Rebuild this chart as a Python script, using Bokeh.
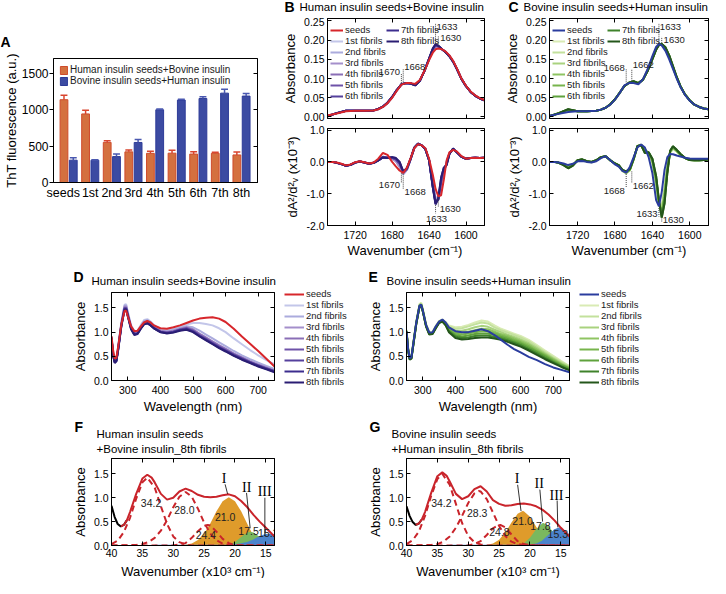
import math
from bokeh.plotting import figure
from bokeh.models import (Range1d, FixedTicker, LinearAxis, Label, Legend, LegendItem,
                          PrintfTickFormatter)
from bokeh.layouts import row, column
from bokeh.embed import file_html
from bokeh.resources import INLINE
from bokeh.core.properties import value

FONT = "Liberation Sans"
SERIF = "Liberation Serif"

# ---------------- data ----------------
categories = ["seeds", "1st", "2nd", "3rd", "4th", "5th", "6th", "7th", "8th"]
tht_human = [1135, 940, 550, 420, 400, 402, 390, 400, 378]
tht_human_err = [62, 52, 22, 25, 30, 40, 30, 16, 40]
tht_bovine = [306, 306, 355, 549, 997, 1130, 1152, 1225, 1185]
tht_bovine_err = [35, 5, 35, 40, 9, 13, 22, 52, 35]

series_names = ["seeds", "1st fibrils", "2nd fibrils", "3rd fibrils", "4th fibrils",
                "5th fibrils", "6th fibrils", "7th fibrils", "8th fibrils"]

wn_abs = [1750, 1740, 1730, 1720, 1710, 1700, 1695, 1690, 1685, 1680, 1675, 1670, 1665, 1660,
          1655, 1650, 1645, 1640, 1636, 1633, 1630, 1626, 1622, 1618, 1614, 1610, 1605, 1600,
          1595, 1590, 1585, 1580]
b_abs_seeds = [0.004, 0.009, 0.015, 0.016, 0.016, 0.017, 0.020, 0.026, 0.036, 0.050, 0.068, 0.084,
               0.088, 0.088, 0.086, 0.096, 0.120, 0.148, 0.167, 0.176, 0.178, 0.176, 0.170, 0.160,
               0.146, 0.127, 0.100, 0.081, 0.066, 0.056, 0.049, 0.044]
b_abs_f1 = [0.003, 0.010, 0.016, 0.016, 0.016, 0.017, 0.020, 0.026, 0.036, 0.051, 0.069, 0.084,
            0.088, 0.087, 0.084, 0.095, 0.120, 0.150, 0.172, 0.182, 0.182, 0.176, 0.169, 0.159,
            0.145, 0.126, 0.100, 0.080, 0.065, 0.055, 0.048, 0.043]
b_abs_f4 = [0.002, 0.010, 0.016, 0.016, 0.016, 0.017, 0.021, 0.027, 0.037, 0.052, 0.070, 0.085,
            0.088, 0.087, 0.083, 0.094, 0.120, 0.151, 0.176, 0.186, 0.184, 0.176, 0.168, 0.158,
            0.144, 0.125, 0.099, 0.080, 0.065, 0.055, 0.048, 0.043]
b_abs_f7 = [0.002, 0.010, 0.016, 0.016, 0.016, 0.017, 0.021, 0.027, 0.037, 0.052, 0.070, 0.085,
            0.088, 0.087, 0.082, 0.094, 0.120, 0.152, 0.178, 0.189, 0.185, 0.176, 0.168, 0.158,
            0.144, 0.125, 0.099, 0.080, 0.065, 0.055, 0.048, 0.043]
c_abs_seeds = [0.003, 0.008, 0.013, 0.015, 0.015, 0.016, 0.019, 0.024, 0.032, 0.045, 0.062, 0.082,
               0.088, 0.088, 0.085, 0.098, 0.125, 0.158, 0.182, 0.190, 0.186, 0.172, 0.150, 0.125,
               0.100, 0.078, 0.057, 0.042, 0.032, 0.026, 0.022, 0.020]
c_abs_f1 = [0.002, 0.009, 0.017, 0.015, 0.015, 0.016, 0.019, 0.024, 0.032, 0.045, 0.062, 0.081,
            0.088, 0.090, 0.087, 0.097, 0.122, 0.154, 0.178, 0.188, 0.188, 0.176, 0.155, 0.128,
            0.102, 0.079, 0.058, 0.043, 0.032, 0.026, 0.022, 0.020]
c_abs_f4 = [0.002, 0.010, 0.019, 0.015, 0.015, 0.016, 0.019, 0.024, 0.033, 0.046, 0.063, 0.080,
            0.089, 0.092, 0.088, 0.097, 0.121, 0.152, 0.176, 0.187, 0.189, 0.179, 0.158, 0.130,
            0.103, 0.080, 0.058, 0.043, 0.032, 0.026, 0.022, 0.020]
c_abs_f7 = [0.002, 0.010, 0.020, 0.015, 0.015, 0.016, 0.019, 0.024, 0.033, 0.046, 0.063, 0.080,
            0.089, 0.093, 0.088, 0.097, 0.120, 0.150, 0.175, 0.187, 0.190, 0.181, 0.160, 0.132,
            0.104, 0.080, 0.058, 0.043, 0.032, 0.026, 0.022, 0.020]

wn_d2 = [1750, 1745, 1740, 1735, 1730, 1725, 1720, 1715, 1710, 1705, 1700, 1695, 1690, 1685,
         1680, 1676, 1672, 1668, 1664, 1660, 1656, 1652, 1648, 1644, 1640, 1636, 1633, 1630,
         1627, 1624, 1621, 1618, 1614, 1610, 1605, 1600, 1595, 1590, 1585, 1580]
b_d2_seeds = [0.00, 0.00, -0.02, -0.06, -0.11, -0.08, -0.01, 0.02, -0.01, -0.05, -0.02, 0.10,
              0.28, 0.22, 0.00, -0.14, -0.27, -0.35, -0.18, 0.12, 0.43, 0.56, 0.52, 0.43, 0.10,
              -0.40, -0.85, -1.08, -1.05, -0.55, 0.05, 0.30, 0.38, 0.33, 0.18, 0.10, 0.12, 0.13,
              0.12, 0.13]
b_d2_f1 = [0.00, 0.00, -0.03, -0.07, -0.12, -0.09, -0.02, 0.01, -0.02, -0.06, -0.03, 0.06, 0.16,
           0.14, 0.10, 0.02, -0.15, -0.38, -0.25, 0.08, 0.44, 0.56, 0.52, 0.41, 0.06, -0.65,
           -1.15, -1.20, -0.80, -0.35, 0.00, 0.27, 0.40, 0.31, 0.17, 0.10, 0.12, 0.13, 0.12, 0.13]
b_d2_f4 = [0.00, 0.00, -0.03, -0.07, -0.12, -0.09, -0.02, 0.01, -0.02, -0.06, -0.03, 0.05, 0.15,
           0.13, 0.13, 0.08, -0.05, -0.33, -0.22, 0.09, 0.45, 0.57, 0.52, 0.40, 0.05, -0.75,
           -1.27, -1.18, -0.62, -0.25, -0.06, 0.26, 0.41, 0.30, 0.16, 0.10, 0.12, 0.13, 0.12, 0.13]
b_d2_f7 = [0.00, 0.00, -0.03, -0.07, -0.12, -0.09, -0.02, 0.01, -0.02, -0.06, -0.03, 0.05, 0.14,
           0.12, 0.15, 0.12, 0.00, -0.30, -0.20, 0.10, 0.45, 0.57, 0.52, 0.40, 0.05, -0.80,
           -1.33, -1.15, -0.50, -0.18, -0.10, 0.25, 0.42, 0.30, 0.16, 0.10, 0.12, 0.13, 0.12, 0.13]
c_d2_seeds = [0.00, 0.00, -0.02, -0.05, -0.10, -0.06, 0.02, 0.03, 0.00, -0.02, 0.02, 0.12, 0.18,
              0.05, -0.08, -0.15, -0.28, -0.34, -0.15, 0.15, 0.45, 0.55, 0.45, 0.15, -0.35,
              -1.20, -1.40, -0.95, -0.25, 0.15, 0.25, 0.24, 0.20, 0.17, 0.13, 0.11, 0.10, 0.10,
              0.10, 0.10]
c_d2_f1 = [0.00, 0.00, -0.03, -0.08, -0.15, -0.09, 0.04, 0.06, 0.01, -0.01, 0.04, 0.14, 0.18,
           0.05, -0.06, -0.12, -0.28, -0.36, -0.26, 0.08, 0.47, 0.54, 0.40, 0.28, 0.00, -0.70,
           -1.35, -1.45, -0.85, -0.10, 0.30, 0.42, 0.33, 0.22, 0.12, 0.07, 0.06, 0.06, 0.07, 0.09]
c_d2_f4 = [0.00, 0.00, -0.03, -0.09, -0.18, -0.10, 0.05, 0.07, 0.02, 0.00, 0.05, 0.15, 0.18,
           0.05, -0.05, -0.11, -0.27, -0.33, -0.24, 0.09, 0.49, 0.53, 0.33, 0.29, 0.05, -0.55,
           -1.27, -1.62, -1.10, -0.25, 0.33, 0.46, 0.36, 0.24, 0.12, 0.06, 0.05, 0.05, 0.06, 0.08]
c_d2_f7 = [0.00, 0.00, -0.03, -0.10, -0.20, -0.12, 0.05, 0.08, 0.02, 0.00, 0.05, 0.15, 0.18,
           0.05, -0.05, -0.10, -0.25, -0.30, -0.22, 0.10, 0.50, 0.52, 0.28, 0.30, 0.10, -0.45,
           -1.20, -1.75, -1.30, -0.35, 0.35, 0.49, 0.38, 0.25, 0.12, 0.06, 0.05, 0.05, 0.06, 0.08]

nm = [250, 255, 260, 265, 270, 280, 290, 295, 300, 310, 320, 330, 340, 350, 360, 370, 380, 400,
      420, 440, 460, 480, 500, 520, 540, 560, 580, 600, 625, 650, 675, 700, 725, 750]
d_seeds = [0.92, 0.62, 0.45, 0.47, 0.68, 1.15, 1.44, 1.44, 1.33, 1.12, 1.02, 1.03, 1.12, 1.20,
           1.23, 1.20, 1.14, 1.08, 1.07, 1.10, 1.14, 1.19, 1.24, 1.28, 1.30, 1.31, 1.28, 1.21,
           1.07, 0.91, 0.76, 0.61, 0.45, 0.29]
d_f1 = [0.90, 0.58, 0.42, 0.45, 0.68, 1.20, 1.57, 1.58, 1.42, 1.15, 1.02, 1.03, 1.15, 1.25, 1.27,
        1.22, 1.15, 1.07, 1.05, 1.08, 1.12, 1.16, 1.19, 1.19, 1.17, 1.14, 1.08, 1.00, 0.87, 0.75,
        0.63, 0.52, 0.42, 0.34]
d_f2 = [0.90, 0.56, 0.40, 0.43, 0.66, 1.18, 1.55, 1.55, 1.40, 1.12, 0.99, 1.00, 1.13, 1.23, 1.25,
        1.20, 1.13, 1.04, 1.02, 1.05, 1.09, 1.12, 1.10, 1.03, 0.95, 0.87, 0.79, 0.71, 0.61, 0.52,
        0.44, 0.37, 0.30, 0.24]
d_f3 = [0.89, 0.55, 0.39, 0.42, 0.65, 1.16, 1.53, 1.53, 1.38, 1.11, 0.98, 0.99, 1.11, 1.21, 1.23,
        1.18, 1.11, 1.03, 1.01, 1.03, 1.07, 1.10, 1.06, 0.97, 0.89, 0.81, 0.73, 0.66, 0.56, 0.48,
        0.40, 0.33, 0.27, 0.21]
d_f4 = [0.89, 0.54, 0.39, 0.42, 0.64, 1.15, 1.51, 1.51, 1.37, 1.10, 0.97, 0.98, 1.10, 1.20, 1.22,
        1.17, 1.10, 1.02, 1.00, 1.02, 1.06, 1.09, 1.05, 0.96, 0.88, 0.80, 0.72, 0.65, 0.55, 0.47,
        0.39, 0.32, 0.26, 0.20]
d_f5 = [0.88, 0.53, 0.38, 0.41, 0.63, 1.14, 1.50, 1.50, 1.36, 1.09, 0.96, 0.98, 1.09, 1.19, 1.21,
        1.16, 1.09, 1.01, 0.99, 1.01, 1.05, 1.08, 1.03, 0.94, 0.86, 0.78, 0.70, 0.63, 0.54, 0.46,
        0.38, 0.31, 0.25, 0.19]
d_f6 = [0.88, 0.53, 0.38, 0.41, 0.63, 1.13, 1.49, 1.49, 1.35, 1.08, 0.96, 0.97, 1.08, 1.18, 1.20,
        1.15, 1.09, 1.01, 0.99, 1.01, 1.05, 1.07, 1.02, 0.93, 0.85, 0.77, 0.69, 0.62, 0.53, 0.45,
        0.38, 0.31, 0.25, 0.19]
d_f7 = [0.88, 0.52, 0.37, 0.40, 0.62, 1.12, 1.48, 1.48, 1.34, 1.07, 0.95, 0.97, 1.08, 1.17, 1.19,
        1.14, 1.08, 1.00, 0.98, 1.00, 1.04, 1.06, 1.01, 0.92, 0.84, 0.76, 0.68, 0.61, 0.52, 0.44,
        0.37, 0.30, 0.24, 0.18]
d_f8 = [0.87, 0.51, 0.36, 0.40, 0.61, 1.11, 1.46, 1.47, 1.33, 1.06, 0.94, 0.96, 1.07, 1.16, 1.18,
        1.14, 1.08, 1.00, 0.97, 0.99, 1.03, 1.05, 1.00, 0.91, 0.83, 0.75, 0.67, 0.60, 0.51, 0.43,
        0.36, 0.29, 0.23, 0.17]
e_seeds = [1.02, 0.65, 0.46, 0.48, 0.72, 1.20, 1.55, 1.57, 1.45, 1.15, 0.99, 1.00, 1.12, 1.22,
           1.26, 1.20, 1.10, 1.02, 1.00, 1.00, 1.03, 1.06, 1.02, 0.94, 0.84, 0.74, 0.65, 0.58,
           0.49, 0.42, 0.34, 0.27, 0.22, 0.17]
e_f1 = [1.05, 0.68, 0.48, 0.50, 0.74, 1.22, 1.58, 1.61, 1.48, 1.17, 1.00, 1.01, 1.13, 1.23, 1.26,
        1.21, 1.14, 1.10, 1.11, 1.15, 1.20, 1.24, 1.22, 1.14, 1.07, 1.02, 0.97, 0.92, 0.84, 0.73,
        0.62, 0.51, 0.40, 0.30]
e_f2 = [1.04, 0.67, 0.47, 0.49, 0.73, 1.21, 1.57, 1.60, 1.47, 1.16, 0.99, 1.00, 1.12, 1.22, 1.25,
        1.20, 1.12, 1.07, 1.08, 1.12, 1.16, 1.20, 1.18, 1.10, 1.04, 0.99, 0.94, 0.89, 0.81, 0.70,
        0.59, 0.48, 0.38, 0.29]
e_f3 = [1.03, 0.66, 0.46, 0.48, 0.72, 1.20, 1.56, 1.58, 1.46, 1.15, 0.98, 0.99, 1.11, 1.22, 1.25,
        1.19, 1.10, 1.03, 1.03, 1.06, 1.10, 1.13, 1.11, 1.05, 1.00, 0.95, 0.90, 0.85, 0.77, 0.67,
        0.56, 0.46, 0.36, 0.27]
e_f4 = [1.02, 0.65, 0.45, 0.47, 0.71, 1.19, 1.55, 1.57, 1.45, 1.14, 0.97, 0.98, 1.10, 1.21, 1.24,
        1.18, 1.08, 1.00, 0.99, 1.01, 1.04, 1.07, 1.06, 1.01, 0.96, 0.92, 0.87, 0.82, 0.74, 0.64,
        0.54, 0.44, 0.34, 0.26]
e_f5 = [1.02, 0.64, 0.45, 0.47, 0.70, 1.18, 1.54, 1.56, 1.44, 1.13, 0.97, 0.98, 1.10, 1.21, 1.24,
        1.17, 1.06, 0.97, 0.95, 0.97, 1.00, 1.02, 1.02, 0.98, 0.93, 0.89, 0.84, 0.79, 0.71, 0.61,
        0.52, 0.42, 0.33, 0.25]
e_f6 = [1.01, 0.63, 0.44, 0.46, 0.70, 1.18, 1.54, 1.56, 1.44, 1.13, 0.96, 0.97, 1.09, 1.20, 1.23,
        1.16, 1.04, 0.94, 0.91, 0.93, 0.96, 0.97, 0.97, 0.94, 0.90, 0.86, 0.81, 0.76, 0.68, 0.59,
        0.50, 0.40, 0.31, 0.24]
e_f7 = [1.01, 0.63, 0.44, 0.46, 0.69, 1.17, 1.53, 1.55, 1.43, 1.12, 0.96, 0.97, 1.09, 1.20, 1.23,
        1.15, 1.02, 0.91, 0.88, 0.89, 0.92, 0.93, 0.93, 0.90, 0.87, 0.83, 0.78, 0.73, 0.65, 0.56,
        0.47, 0.38, 0.29, 0.22]
e_f8 = [1.00, 0.62, 0.43, 0.45, 0.69, 1.17, 1.53, 1.55, 1.43, 1.12, 0.95, 0.96, 1.08, 1.19, 1.22,
        1.14, 1.00, 0.88, 0.85, 0.86, 0.88, 0.89, 0.89, 0.87, 0.84, 0.80, 0.75, 0.70, 0.62, 0.53,
        0.44, 0.36, 0.28, 0.21]

# Panel F / G (x10^3 cm-1)
kx_black = [40, 39.5, 39, 38.5, 38, 37.5]
f_black = [0.83, 0.60, 0.45, 0.40, 0.43, 0.53]
g_black = [0.82, 0.62, 0.49, 0.43, 0.46, 0.55]
kx_sum = [38.5, 38, 37.5, 37, 36, 35, 34.2, 33.5, 33, 32, 31, 30, 29, 28, 27, 26, 25, 24, 23, 22,
          21, 20, 19, 18, 17, 16, 15, 14, 13.6]
f_sum = [0.40, 0.43, 0.53, 0.70, 1.08, 1.40, 1.48, 1.42, 1.32, 1.08, 0.96, 1.00, 1.13, 1.19, 1.14,
         1.06, 1.02, 1.01, 1.02, 1.05, 1.07, 1.03, 0.93, 0.80, 0.64, 0.50, 0.37, 0.24, 0.19]
g_sum = [0.43, 0.46, 0.55, 0.70, 1.10, 1.45, 1.53, 1.46, 1.34, 1.08, 0.97, 1.03, 1.18, 1.24, 1.13,
         0.95, 0.87, 0.83, 0.84, 0.87, 0.88, 0.86, 0.82, 0.75, 0.65, 0.52, 0.37, 0.24, 0.19]

f_c342_x = [40, 39, 38, 37, 36, 35, 34.2, 33, 32, 31, 30, 29, 28, 27, 26, 13.6]
f_c342_y = [0.03, 0.10, 0.28, 0.58, 0.98, 1.32, 1.42, 1.21, 0.82, 0.45, 0.19, 0.07, 0.02, 0.0, 0.0, 0.0]
f_c280_x = [40, 36, 35, 34, 33, 32, 31, 30, 29, 28, 27, 26, 25, 24, 23, 22, 21, 20, 13.6]
f_c280_y = [0.0, 0.01, 0.03, 0.07, 0.16, 0.31, 0.53, 0.80, 1.02, 1.12, 1.02, 0.77, 0.48, 0.25, 0.11,
            0.04, 0.01, 0.0, 0.0]
f_c244_x = [40, 30, 29, 28, 27, 26, 25, 24.4, 24, 23, 22, 21, 20, 19, 13.6]
f_c244_y = [0.0, 0.0, 0.02, 0.05, 0.16, 0.30, 0.41, 0.43, 0.42, 0.29, 0.14, 0.05, 0.01, 0.0, 0.0]
f_c210_x = [30, 29, 28, 27, 26, 25, 24, 23, 22, 21, 20, 19, 18, 17, 16, 15, 14, 13.6]
f_c210_y = [0.0, 0.004, 0.014, 0.044, 0.115, 0.252, 0.462, 0.714, 0.926, 1.01, 0.926, 0.714, 0.45,
            0.20, 0.08, 0.025, 0.01, 0.005]
f_c175_x = [22, 21, 20, 19, 18, 17.5, 17, 16, 15, 14, 13.6]
f_c175_y = [0.003, 0.019, 0.072, 0.176, 0.274, 0.29, 0.274, 0.176, 0.072, 0.019, 0.010]
f_c152_x = [33, 21, 20, 19, 18, 17, 16, 15.2, 15, 14, 13.6]
f_c152_y = [0.0, 0.0, 0.01, 0.03, 0.06, 0.11, 0.18, 0.22, 0.225, 0.225, 0.22]

g_c342_x = [40, 39, 38, 37, 36, 35, 34.2, 33, 32, 31, 30, 29, 28, 27, 26, 13.6]
g_c342_y = [0.03, 0.11, 0.29, 0.62, 1.04, 1.39, 1.50, 1.27, 0.87, 0.47, 0.20, 0.07, 0.02, 0.0, 0.0, 0.0]
g_c283_x = [40, 36, 35, 34, 33, 32, 31, 30, 29, 28.3, 28, 27, 26, 25, 24, 23, 22, 21, 20, 13.6]
g_c283_y = [0.0, 0.01, 0.03, 0.08, 0.19, 0.37, 0.62, 0.89, 1.09, 1.14, 1.13, 0.97, 0.69, 0.41, 0.20,
            0.08, 0.03, 0.01, 0.0, 0.0]
g_c248_x = [40, 30, 29, 28, 27, 26, 25, 24.8, 24, 23, 22, 21, 20, 19, 13.6]
g_c248_y = [0.0, 0.0, 0.03, 0.09, 0.22, 0.36, 0.43, 0.43, 0.38, 0.23, 0.09, 0.03, 0.005, 0.0, 0.0]
g_c210_x = [28, 27, 26, 25, 24, 23, 22, 21.2, 21, 20, 19, 18, 17, 16, 15, 14, 13.6]
g_c210_y = [0.0, 0.011, 0.040, 0.118, 0.270, 0.480, 0.665, 0.72, 0.716, 0.601, 0.393, 0.200, 0.080,
            0.025, 0.006, 0.001, 0.0]
g_c178_x = [23, 22, 21, 20, 19, 18, 17.8, 17, 16, 15, 14, 13.6]
g_c178_y = [0.0, 0.009, 0.048, 0.160, 0.341, 0.466, 0.47, 0.408, 0.229, 0.082, 0.019, 0.009]
g_c153_x = [33, 22, 21, 20, 19, 18, 17, 16, 15.3, 15, 14, 13.6]
g_c153_y = [0.0, 0.0, 0.001, 0.005, 0.025, 0.087, 0.205, 0.327, 0.36, 0.354, 0.259, 0.205]

f_peak_labels = ["34.2", "28.0", "24.4", "21.0", "17.5", "15.2"]
g_peak_labels = ["34.2", "28.3", "24.8", "21.0", "17.8", "15.3"]
band_names = ["I", "II", "III"]

# ---------------- styles ----------------
PURPLES = ["#C3C6E9", "#ABABDD", "#A48FCB", "#8A6EB6", "#6E52A8", "#55409D", "#3C2D8E", "#2A1D73"]
GREENS = ["#D9EBB4", "#C3E19C", "#A9D27E", "#8FC462", "#77B44C", "#5FA23C", "#3F822B", "#24561B"]
RED = "#D7262B"
BLUE = "#2A3C9E"
WAVENUMBER = "Wavenumber (cm\u207b\u00b9)"
WAVENUMBER_K = "Wavenumber (x10\u00b3 cm\u207b\u00b9)"


def base_fig(w, h, l, r, t, b, xr, yr):
    p = figure(width=w, height=h, x_range=xr, y_range=yr, output_backend="svg",
               toolbar_location=None, tools="", title=None,
               min_border_left=l, min_border_right=r, min_border_top=t, min_border_bottom=b)
    p.xgrid.visible = False
    p.ygrid.visible = False
    p.outline_line_color = "black"
    p.outline_line_alpha = 1.0
    p.background_fill_color = "white"
    p.border_fill_color = "white"
    return p


def blank_fig(w, h):
    p = figure(width=w, height=h, x_range=Range1d(0, w), y_range=Range1d(0, h),
               output_backend="svg", toolbar_location=None, tools="", title=None,
               x_axis_location=None, y_axis_location=None,
               min_border_left=0, min_border_right=0, min_border_top=0, min_border_bottom=0)
    p.grid.visible = False
    p.outline_line_color = None
    p.background_fill_color = "white"
    p.border_fill_color = "white"
    return p


def strip(w, h, items):
    """Text strip above/below a panel: items are (x, y, text, size, bold, align)."""
    p = blank_fig(w, h)
    for (x, y, text, size, bold, align) in items:
        p.add_layout(Label(x=x, y=y, text=text, text_font=FONT, text_font_size=size,
                           text_font_style="bold" if bold else "normal",
                           text_align=align, text_baseline="middle", text_color="black"))
    return column(p)


def style_ax(ax, ticks, fmt=None, show=True, size="10.5px", tin=4, tout=0, label=None,
             lsize="13px", standoff=3, lstand=3):
    ax.ticker = FixedTicker(ticks=ticks)
    if fmt is not None:
        ax.formatter = PrintfTickFormatter(format=fmt)
    ax.major_tick_in = tin
    ax.major_tick_out = tout
    ax.minor_tick_in = 0
    ax.minor_tick_out = 0
    ax.axis_line_color = "black"
    ax.major_tick_line_color = "black"
    ax.major_label_text_font = FONT
    ax.major_label_text_color = "black"
    if show:
        ax.major_label_text_font_size = size
        ax.major_label_standoff = standoff
    else:
        ax.major_label_text_font_size = "0px"
        ax.major_label_standoff = 0
        ax.major_label_overrides = {t: "" for t in ticks}
    if label:
        ax.axis_label = label
        ax.axis_label_text_font = FONT
        ax.axis_label_text_font_size = lsize
        ax.axis_label_text_font_style = "normal"
        ax.axis_label_text_color = "black"
        ax.axis_label_standoff = lstand


def mirror(p, xticks, yticks, top=True, right=True, tin=4):
    if top:
        ax = LinearAxis()
        style_ax(ax, xticks, show=False, tin=tin)
        p.add_layout(ax, "above")
    if right:
        ax = LinearAxis()
        style_ax(ax, yticks, show=False, tin=tin)
        p.add_layout(ax, "right")


def dtext(p, x, y, text, size="9.5px", align="left", font=FONT, color="#222222"):
    p.text(x=[x], y=[y], text=[text], text_font=value(font), text_font_size=value(size),
           text_align=align, text_baseline="middle", text_color=color)


def make_legend(items, loc, gw, fs="9.5px", gh=10):
    return Legend(items=items, location=loc, orientation="vertical",
                  label_text_font=FONT, label_text_font_size=fs, label_text_color="#1a1a1a",
                  glyph_width=gw, glyph_height=gh, label_height=gh,
                  label_standoff=2, spacing=0, padding=0, margin=0,
                  border_line_color=None, background_fill_alpha=0)


def legend_strip(w, h, colors, y):
    """Legend placed beside a panel; its key lines sit outside the visible range."""
    p = blank_fig(w, h)
    keys = [p.line(x=[-20, -10], y=[-20, -20], line_color=c, line_width=2) for c in colors]
    p.add_layout(make_legend([LegendItem(label=n, renderers=[k]) for n, k in zip(series_names, keys)],
                             (4, y), 20))
    return column(p)


# ---------------- Panel A ----------------
hA = strip(280, 50, [(0, 9, "A", "14px", True, "left")])
pA = base_fig(280, 210, 46, 23, 8, 78, Range1d(-0.70, 8.74), Range1d(0, 1700))
idx = list(range(len(categories)))
xh = [i - 0.215 for i in idx]
xb = [i + 0.215 for i in idx]
rh = pA.vbar(x=xh, top=tht_human, width=0.36, fill_color="#D4703F", line_color="#CF4B2B", line_width=1)
rb = pA.vbar(x=xb, top=tht_bovine, width=0.36, fill_color="#3C4BA2", line_color="#2D3B98", line_width=1)
h_top = [v + e for v, e in zip(tht_human, tht_human_err)]
b_top = [v + e for v, e in zip(tht_bovine, tht_bovine_err)]
pA.segment(x0=xh, y0=tht_human, x1=xh, y1=h_top, line_color="#D9452E", line_width=1.5)
pA.segment(x0=[x - 0.16 for x in xh], y0=h_top, x1=[x + 0.16 for x in xh], y1=h_top,
           line_color="#D9452E", line_width=1.5)
pA.segment(x0=xb, y0=tht_bovine, x1=xb, y1=b_top, line_color="#4A58B0", line_width=1.5)
pA.segment(x0=[x - 0.16 for x in xb], y0=b_top, x1=[x + 0.16 for x in xb], y1=b_top,
           line_color="#4A58B0", line_width=1.5)
cat_tick_pos = [-0.25] + idx[1:]
style_ax(pA.xaxis[0], cat_tick_pos, size="12.5px", tin=0, tout=0, standoff=3)
pA.xaxis[0].major_label_overrides = {t: c for t, c in zip(cat_tick_pos, categories)}
pA.xaxis[0].major_tick_line_color = None
style_ax(pA.yaxis[0], [0, 500, 1000, 1500], size="12px", tin=0, tout=4, standoff=1,
         label="ThT fluorescence (a.u.)", lsize="13px", lstand=0)
mirror(pA, idx, [0, 500, 1000, 1500], top=False, right=True)
pA.add_layout(make_legend([LegendItem(label="Human insulin seeds+Bovine insulin", renderers=[rh]),
                           LegendItem(label="Bovine insulin seeds+Human insulin", renderers=[rb])],
                          (6, 96), 9, fs="10px", gh=10))
colA = column(hA, column(pA))


# ---------------- Panels B, C ----------------
def ftir(letter, title, colors, abs_sets, d2_sets, width, bl, br, col2_x,
         top_lines, top_texts, bot_lines, bot_texts):
    xt = [1720, 1680, 1640, 1600]
    hd = strip(width, 17, [(bl - 41, 11, letter, "14px", True, "left"),
                           (bl - 26, 11, title, "11.5px", False, "left")])
    pt = base_fig(width, 106, bl, br, 1, 5, Range1d(1750, 1580), Range1d(-0.004, 0.256))
    pb = base_fig(width, 120, bl, br, 5, 18, Range1d(1750, 1580), Range1d(-2.0, 1.05))
    ft = strip(width, 17, [(bl + 79.5, 10, WAVENUMBER, "13px", False, "center")])
    rs = {}
    for i in list(range(1, 9)) + [0]:
        rs[i] = pt.line(wn_abs, abs_sets[i], line_color=colors[i], line_width=2)
        pb.line(wn_d2, d2_sets[i], line_color=colors[i], line_width=2)
    style_ax(pt.xaxis[0], xt, show=False)
    style_ax(pt.yaxis[0], [0, 0.05, 0.10, 0.15, 0.20, 0.25], fmt="%.2f", label="Absorbance")
    mirror(pt, xt, [0, 0.05, 0.10, 0.15, 0.20, 0.25])
    style_ax(pb.xaxis[0], xt, fmt="%d", standoff=5)
    style_ax(pb.yaxis[0], [-2, -1, 0, 1], fmt="%.1f", label="dA\u00b2/d\u00b2\u1d65 (x10\u207b\u00b3)")
    mirror(pb, xt, [-2, -1, 0, 1])
    for p, lines, texts in ((pt, top_lines, top_texts), (pb, bot_lines, bot_texts)):
        for (x, y0, y1) in lines:
            p.segment(x0=[x], y0=[y0], x1=[x], y1=[y1], line_color="#444444",
                      line_width=1, line_dash="1 1")
        for (t, x, y, a) in texts:
            dtext(p, x, y, t, align=a)
    pt.add_layout(make_legend([LegendItem(label=series_names[i], renderers=[rs[i]]) for i in range(7)],
                              (3, 17), 13))
    pt.add_layout(make_legend([LegendItem(label=series_names[i], renderers=[rs[i]]) for i in (7, 8)],
                              (col2_x, 72), 13))
    return column(hd, column(pt, pb), ft)


b_colors = [RED] + PURPLES
c_colors = [BLUE] + GREENS
colB = ftir("B", "Human insulin seeds+Bovine insulin", b_colors,
            [b_abs_seeds, b_abs_f1, b_abs_f1, b_abs_f1, b_abs_f4, b_abs_f4, b_abs_f4, b_abs_f7, b_abs_f7],
            [b_d2_seeds, b_d2_f1, b_d2_f1, b_d2_f1, b_d2_f4, b_d2_f4, b_d2_f4, b_d2_f7, b_d2_f7],
            212, 45, 8, 59,
            [(1633, 0.193, 0.242), (1630, 0.186, 0.210), (1670, 0.088, 0.112), (1668, 0.090, 0.124)],
            [("1633", 1632, 0.234, "left"), ("1630", 1628, 0.206, "left"),
             ("1670", 1671.5, 0.117, "right"), ("1668", 1667, 0.129, "left")],
            [(1670, -0.36, -0.66), (1668, -0.37, -0.86), (1633, -1.36, -1.62), (1630, -1.12, -1.42)],
            [("1670", 1671.5, -0.72, "right"), ("1668", 1666.5, -0.96, "left"),
             ("1630", 1628.5, -1.47, "left"), ("1633", 1632, -1.79, "center")])
colC = ftir("C", "Bovine insulin seeds+Human insulin", c_colors,
            [c_abs_seeds, c_abs_f1, c_abs_f1, c_abs_f1, c_abs_f4, c_abs_f4, c_abs_f4, c_abs_f7, c_abs_f7],
            [c_d2_seeds, c_d2_f1, c_d2_f1, c_d2_f1, c_d2_f4, c_d2_f4, c_d2_f4, c_d2_f7, c_d2_f7],
            218, 57, 2, 58,
            [(1633, 0.193, 0.242), (1630, 0.192, 0.208), (1668, 0.090, 0.125), (1662, 0.094, 0.125)],
            [("1633", 1632, 0.234, "left"), ("1630", 1628, 0.200, "left"),
             ("1668", 1669.5, 0.128, "right"), ("1662", 1661, 0.134, "left")],
            [(1668, -0.38, -0.82), (1662, -0.30, -0.66), (1633, -1.45, -1.72), (1630, -1.78, -1.88)],
            [("1668", 1669.5, -0.92, "right"), ("1662", 1661, -0.76, "left"),
             ("1633", 1634.5, -1.64, "right"), ("1630", 1629, -1.84, "left")])


# ---------------- Panels D, E ----------------
def uvvis(letter, title, colors, sets, bl, leg_w):
    pw = bl + 163 + 6
    hd = strip(pw + leg_w, 26, [(bl - 38, 10, letter, "14px", True, "left"),
                                (bl - 20, 6, title, "11.5px", False, "left")])
    p = base_fig(pw, 112, bl, 6, 6, 18, Range1d(250, 750), Range1d(0, 1.82))
    ft = strip(pw + leg_w, 21, [(bl + 81.5, 13, "Wavelength (nm)", "13px", False, "center")])
    for i in list(range(1, 9)) + [0]:
        p.line(nm, sets[i], line_color=colors[i], line_width=2)
    style_ax(p.xaxis[0], [300, 400, 500, 600, 700], fmt="%d", standoff=5)
    style_ax(p.yaxis[0], [0, 0.5, 1.0, 1.5], fmt="%.1f", label="Absorbance")
    mirror(p, [300, 400, 500, 600, 700], [0, 0.5, 1.0, 1.5])
    leg = legend_strip(leg_w, 112, colors, 11)
    return column(hd, row(column(p), leg), ft)


colD = uvvis("D", "Human insulin seeds+Bovine insulin", b_colors,
             [d_seeds, d_f1, d_f2, d_f3, d_f4, d_f5, d_f6, d_f7, d_f8], 111, 75)
colE = uvvis("E", "Bovine insulin seeds+Human insulin", c_colors,
             [e_seeds, e_f1, e_f2, e_f3, e_f4, e_f5, e_f6, e_f7, e_f8], 51, 135)


# ---------------- Panels F, G ----------------
def deconv(letter, line1, line2, black, total, dashed, fills, labels, label_pos,
           band_pos, band_lines, bl, br):
    hd = strip(355, 36, [(bl - 37, 29, letter, "14px", True, "left"),
                         (bl - 15, 22, line1, "11.5px", False, "left"),
                         (bl - 15, 7, line2, "11.5px", False, "left")])
    p = base_fig(355, 106, bl, br, 3, 16, Range1d(40, 13.6), Range1d(0, 1.82))
    ft = strip(355, 17, [(bl + 81.5, 7, WAVENUMBER_K, "13px", False, "center")])
    fill_cols = ["#DF9B2B", "#7AB85E", "#4C84CC"]
    for (xs, ys), c in zip(fills, fill_cols):
        p.varea(x=xs, y1=[0] * len(xs), y2=ys, fill_color=c, fill_alpha=1.0)
    p.line(fills[2][0], fills[2][1], line_color=fill_cols[2], line_width=1.5)
    for xs, ys in dashed:
        p.line(xs, ys, line_color="#C9242B", line_width=2, line_dash="6 4")
    p.line(kx_black, black, line_color="black", line_width=2)
    p.line(kx_sum, total, line_color="#C9242B", line_width=2)
    for t, (x, y) in zip(labels, label_pos):
        dtext(p, x, y, t, size="10.5px", align="center")
    for t, (x, y) in zip(band_names, band_pos):
        dtext(p, x, y, t, size="14px", align="center", font=SERIF, color="black")
    for (x0, y0, x1, y1) in band_lines:
        p.segment(x0=[x0], y0=[y0], x1=[x1], y1=[y1], line_color="black", line_width=0.8)
    xt = [40, 35, 30, 25, 20, 15]
    style_ax(p.xaxis[0], xt, fmt="%d", standoff=3)
    style_ax(p.yaxis[0], [0, 0.5, 1.0, 1.5], fmt="%.1f", label="Absorbance")
    mirror(p, xt, [0, 0.5, 1.0, 1.5])
    return column(hd, column(p), ft)


colF = deconv("F", "Human insulin seeds", "+Bovine insulin_8th fibrils", f_black, f_sum,
              [(f_c342_x, f_c342_y), (f_c280_x, f_c280_y), (f_c244_x, f_c244_y)],
              [(f_c210_x, f_c210_y), (f_c175_x, f_c175_y), (f_c152_x, f_c152_y)],
              f_peak_labels,
              [(33.6, 0.88), (28.2, 0.74), (24.7, 0.22), (21.6, 0.60), (17.8, 0.31), (14.6, 0.26)],
              [(21.75, 1.40), (18.1, 1.22), (15.2, 1.12)],
              [(21.6, 1.28, 21.2, 1.08), (18.13, 1.10, 17.54, 0.36), (15.16, 1.00, 15.16, 0.20)],
              111, 81)
colG = deconv("G", "Bovine insulin seeds", "+Human insulin_8th fibrils", g_black, g_sum,
              [(g_c342_x, g_c342_y), (g_c283_x, g_c283_y), (g_c248_x, g_c248_y)],
              [(g_c210_x, g_c210_y), (g_c178_x, g_c178_y), (g_c153_x, g_c153_y)],
              g_peak_labels,
              [(34.35, 0.88), (28.55, 0.69), (24.95, 0.29), (21.2, 0.52), (18.3, 0.41), (15.5, 0.25)],
              [(22.1, 1.40), (18.5, 1.30), (15.7, 1.05)],
              [(22.0, 1.27, 21.45, 0.72), (18.4, 1.17, 17.96, 0.50), (15.6, 0.94, 15.5, 0.38)],
              51, 141)

layout = column(row(colA, colB, colC), row(colD, colE), row(colF, colG))
open("out.html", "w").write(file_html(layout, INLINE, title="insulin fibrils"))
